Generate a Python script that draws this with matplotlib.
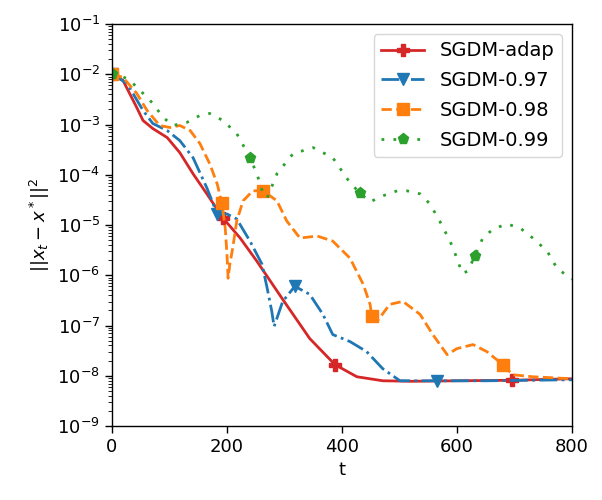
import matplotlib
matplotlib.use('Agg')
import matplotlib.pyplot as plt
import numpy as np

# iteration t and log10(||x_t - x*||^2)
t_adap = [0, 19, 43, 54, 71, 96, 118, 141, 165, 193, 223, 252, 297, 344, 388, 426, 471, 520, 600, 696, 800]
y_adap = [-2.0, -2.12, -2.66, -2.92, -3.08, -3.26, -3.56, -3.98, -4.38, -4.86, -5.26, -5.72, -6.48, -7.26, -7.78,
          -8.02, -8.1, -8.11, -8.1, -8.09, -8.06]
mk_adap = [0, 193, 388, 696]

t_97 = [0, 26, 54, 71, 96, 118, 141, 165, 183, 200, 217, 240, 261, 270, 278, 282, 297, 318, 344, 367, 384, 414,
        443, 471, 496, 501, 565, 650, 800]
y_97 = [-2.0, -2.18, -2.72, -2.98, -3.12, -3.32, -3.66, -4.26, -4.78, -4.78, -4.88, -5.32, -5.78, -6.26, -6.72,
        -7.02, -6.52, -6.22, -6.38, -6.78, -7.18, -7.32, -7.52, -7.86, -8.06, -8.1, -8.1, -8.1, -8.08]
mk_97 = [0, 183, 318, 565]

t_98 = [0, 19, 43, 61, 83, 101, 118, 136, 153, 170, 183, 191, 197, 200, 202, 205, 210, 217, 228, 245, 263, 287,
        304, 327, 357, 384, 414, 437, 449, 452, 461, 483, 506, 536, 558, 583, 600, 628, 652, 680, 697, 732, 800]
y_98 = [-2.0, -2.06, -2.38, -2.72, -3.02, -3.06, -3.02, -3.12, -3.38, -3.78, -4.18, -4.56, -5.06, -5.58, -6.06,
        -5.78, -5.46, -4.92, -4.52, -4.32, -4.32, -4.52, -4.92, -5.26, -5.22, -5.32, -5.66, -6.18, -6.58, -6.82,
        -6.92, -6.58, -6.52, -6.78, -7.18, -7.58, -7.46, -7.38, -7.52, -7.78, -7.98, -8.02, -8.06]
mk_98 = [0, 191, 263, 452, 680]

t_99 = [0, 14, 31, 54, 71, 89, 106, 130, 153, 170, 193, 217, 240, 252, 263, 270, 287, 315, 350, 384, 414, 431,
        449, 471, 496, 513, 536, 553, 570, 588, 600, 609, 619, 631, 645, 663, 687, 710, 732, 757, 774, 800]
y_99 = [-2.0, -2.02, -2.12, -2.38, -2.58, -2.86, -3.02, -2.96, -2.82, -2.78, -2.92, -3.18, -3.66, -3.98, -4.38,
        -4.46, -3.98, -3.58, -3.46, -3.66, -4.16, -4.36, -4.54, -4.42, -4.32, -4.32, -4.38, -4.58, -4.92, -5.32,
        -5.66, -5.96, -5.92, -5.62, -5.26, -5.08, -4.98, -5.06, -5.26, -5.52, -5.86, -6.08]
mk_99 = [0, 240, 431, 631]

series = [
    ('SGDM-adap', t_adap, y_adap, mk_adap, '#d62728', '-', 'P'),
    ('SGDM-0.97', t_97, y_97, mk_97, '#1f77b4', '-.', 'v'),
    ('SGDM-0.98', t_98, y_98, mk_98, '#ff7f0e', '--', 's'),
    ('SGDM-0.99', t_99, y_99, mk_99, '#2ca02c', (0, (1, 3.3)), 'p'),
]

fig = plt.figure(figsize=(6.02, 5.00), dpi=100)
ax = fig.add_axes([0.186, 0.148, 0.764, 0.804])

for label, t, y, mk, color, ls, marker in series:
	idx = [t.index(m) for m in mk]
	ax.plot(t, 10.0 ** np.array(y), color=color, linestyle=ls, linewidth=2, marker=marker,
			markersize=8, markevery=idx, label=label)

ax.set_yscale('log')
ax.set_ylim(1e-9, 1e-1)
ax.set_xlim(0, 800)
ax.set_xticks([0, 200, 400, 600, 800])
ax.set_yticks([10.0 ** k for k in range(-9, 0)])
ax.set_xlabel('t', fontsize=13)
ax.set_ylabel(r'$||x_t - x^*||^2$', fontsize=13)
ax.tick_params(which='major', labelsize=13, length=5, width=1)
ax.tick_params(which='minor', length=3)
for sp in ax.spines.values():
	sp.set_linewidth(1)
ax.legend(loc='upper right', fontsize=14, handlelength=2.2, labelspacing=0.55)

fig.savefig('out.png', dpi=100)
